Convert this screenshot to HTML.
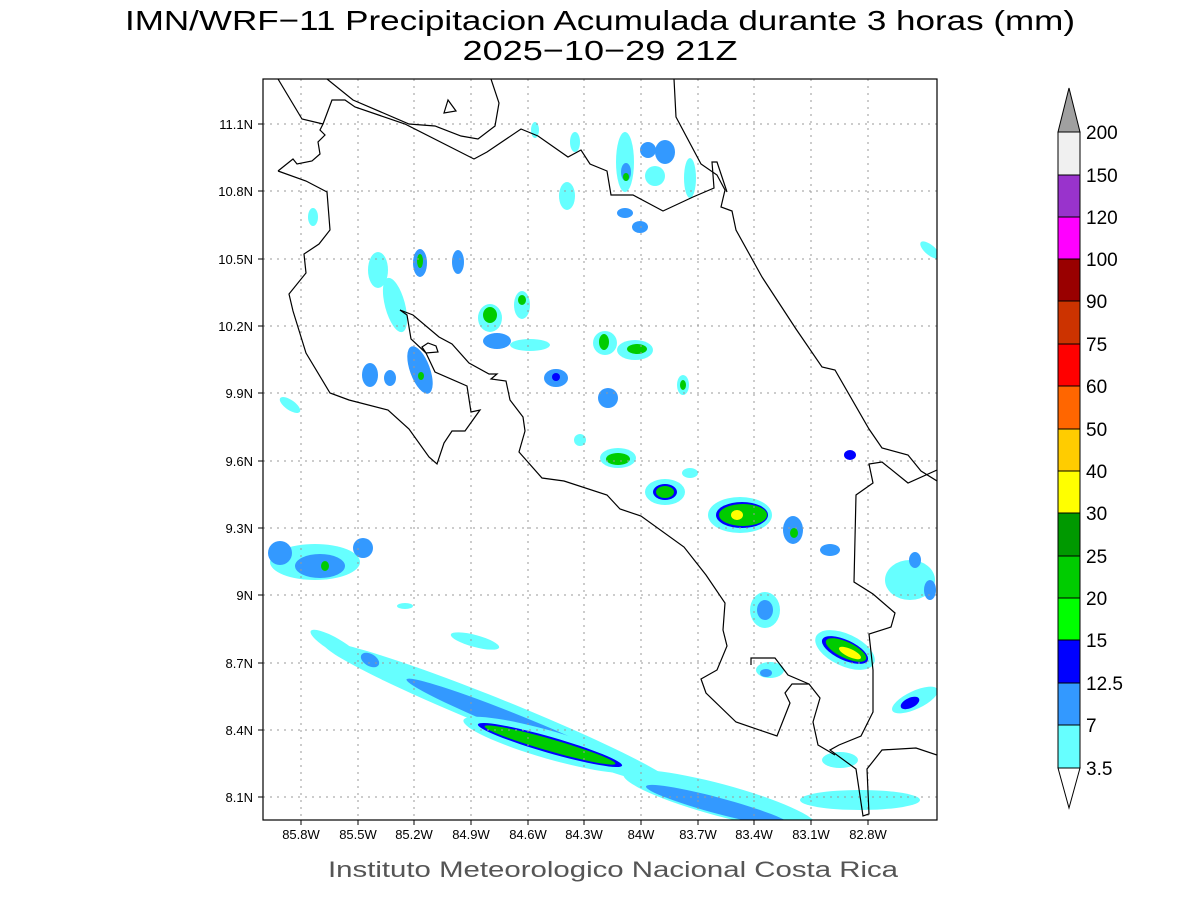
<!DOCTYPE html>
<html><head><meta charset="utf-8"><style>
body{margin:0;background:#fff}
svg{display:block;font-family:"Liberation Sans",sans-serif}
</style></head><body>
<svg width="1200" height="900" viewBox="0 0 1200 900" xmlns="http://www.w3.org/2000/svg">
<rect width="1200" height="900" fill="#fff"/>
<text x="600" y="30" font-size="28" text-anchor="middle" fill="#000" textLength="950" lengthAdjust="spacingAndGlyphs">IMN/WRF−11 Precipitacion Acumulada durante 3 horas (mm)</text>
<text x="600" y="60" font-size="28" text-anchor="middle" fill="#000" textLength="275" lengthAdjust="spacingAndGlyphs">2025−10−29 21Z</text>
<clipPath id="c"><rect x="263" y="79" width="674" height="741"/></clipPath>
<g clip-path="url(#c)">
<g transform="rotate(22 500 715)">
<ellipse cx="500" cy="715" rx="190" ry="15" fill="#66ffff"/>
<ellipse cx="520" cy="717" rx="120" ry="9" fill="#3399ff"/>
</g>
<g transform="rotate(16 550 745)">
<ellipse cx="550" cy="745" rx="90" ry="14" fill="#66ffff"/>
<ellipse cx="550" cy="745" rx="75" ry="8" fill="#0000ff"/>
<ellipse cx="550" cy="745" rx="68" ry="6" fill="#00cc00"/>
</g>
<g transform="rotate(15 720 800)"><ellipse cx="720" cy="800" rx="100" ry="16" fill="#66ffff"/><ellipse cx="720" cy="806" rx="75" ry="8" fill="#3399ff"/></g>
<ellipse cx="860" cy="800" rx="60" ry="10" fill="#66ffff"/>
<g transform="rotate(30 335 645)"><ellipse cx="335" cy="645" rx="28" ry="7" fill="#66ffff"/></g>
<ellipse cx="475" cy="641" rx="25" ry="6" fill="#66ffff" transform="rotate(15 475 641)"/>
<ellipse cx="370" cy="660" rx="10" ry="6" fill="#3399ff" transform="rotate(30 370 660)"/>
<ellipse cx="315" cy="562" rx="45" ry="18" fill="#66ffff"/>
<ellipse cx="320" cy="566" rx="25" ry="12" fill="#3399ff"/>
<ellipse cx="325" cy="566" rx="4" ry="5" fill="#00cc00"/>
<ellipse cx="363" cy="548" rx="10" ry="10" fill="#3399ff"/>
<ellipse cx="280" cy="553" rx="12" ry="12" fill="#3399ff"/>
<ellipse cx="405" cy="606" rx="8" ry="3" fill="#66ffff"/>
<ellipse cx="740" cy="515" rx="32" ry="18" fill="#66ffff"/>
<ellipse cx="742" cy="515" rx="26" ry="13" fill="#0000ff"/>
<ellipse cx="743" cy="515" rx="24" ry="11" fill="#00cc00"/>
<ellipse cx="737" cy="515" rx="6" ry="5" fill="#ffff00"/>
<ellipse cx="793" cy="530" rx="10" ry="14" fill="#3399ff"/><ellipse cx="794" cy="533" rx="4" ry="5" fill="#00cc00"/>
<ellipse cx="845" cy="650" rx="32" ry="16" fill="#66ffff" transform="rotate(25 845 650)"/>
<ellipse cx="845" cy="650" rx="25" ry="10" fill="#0000ff" transform="rotate(25 845 650)"/>
<ellipse cx="846" cy="650" rx="22" ry="8" fill="#00cc00" transform="rotate(25 846 650)"/>
<ellipse cx="850" cy="653" rx="12" ry="4" fill="#ffff00" transform="rotate(25 850 653)"/>
<ellipse cx="665" cy="492" rx="20" ry="13" fill="#66ffff"/><ellipse cx="665" cy="492" rx="12" ry="8" fill="#0000ff"/><ellipse cx="665" cy="492" rx="9" ry="6" fill="#00cc00"/>
<ellipse cx="618" cy="458" rx="18" ry="10" fill="#66ffff"/><ellipse cx="618" cy="459" rx="12" ry="6" fill="#00cc00"/>
<ellipse cx="765" cy="610" rx="15" ry="18" fill="#66ffff"/><ellipse cx="765" cy="610" rx="8" ry="10" fill="#3399ff"/>
<ellipse cx="915" cy="700" rx="25" ry="9" fill="#66ffff" transform="rotate(-25 915 700)"/><ellipse cx="910" cy="703" rx="10" ry="5" fill="#0000ff" transform="rotate(-25 910 703)"/>
<ellipse cx="910" cy="580" rx="25" ry="20" fill="#66ffff"/><ellipse cx="915" cy="560" rx="6" ry="8" fill="#3399ff"/><ellipse cx="930" cy="590" rx="6" ry="10" fill="#3399ff"/>
<ellipse cx="830" cy="550" rx="10" ry="6" fill="#3399ff"/>
<ellipse cx="850" cy="455" rx="6" ry="5" fill="#0000ff"/>
<ellipse cx="770" cy="670" rx="14" ry="8" fill="#66ffff"/><ellipse cx="766" cy="673" rx="6" ry="4" fill="#3399ff"/>
<ellipse cx="840" cy="760" rx="18" ry="8" fill="#66ffff"/>
<ellipse cx="690" cy="473" rx="8" ry="5" fill="#66ffff"/>
<ellipse cx="580" cy="440" rx="6" ry="6" fill="#66ffff"/>
<ellipse cx="490" cy="318" rx="12" ry="14" fill="#66ffff"/><ellipse cx="490" cy="315" rx="7" ry="8" fill="#00cc00"/>
<ellipse cx="497" cy="341" rx="14" ry="8" fill="#3399ff"/>
<ellipse cx="522" cy="305" rx="8" ry="14" fill="#66ffff"/><ellipse cx="522" cy="300" rx="4" ry="5" fill="#00cc00"/>
<ellipse cx="530" cy="345" rx="20" ry="6" fill="#66ffff"/>
<ellipse cx="605" cy="343" rx="12" ry="12" fill="#66ffff"/><ellipse cx="604" cy="342" rx="5" ry="8" fill="#00cc00"/>
<ellipse cx="635" cy="350" rx="18" ry="10" fill="#66ffff"/><ellipse cx="637" cy="349" rx="10" ry="5" fill="#00cc00"/>
<ellipse cx="556" cy="378" rx="12" ry="9" fill="#3399ff"/><ellipse cx="556" cy="377" rx="4" ry="4" fill="#0000ff"/>
<ellipse cx="608" cy="398" rx="10" ry="10" fill="#3399ff"/>
<ellipse cx="683" cy="385" rx="6" ry="10" fill="#66ffff"/><ellipse cx="683" cy="385" rx="3" ry="5" fill="#00cc00"/>
<ellipse cx="420" cy="263" rx="7" ry="14" fill="#3399ff"/><ellipse cx="420" cy="261" rx="3" ry="7" fill="#00cc00"/>
<ellipse cx="458" cy="262" rx="6" ry="12" fill="#3399ff"/>
<ellipse cx="378" cy="270" rx="10" ry="18" fill="#66ffff"/>
<ellipse cx="395" cy="305" rx="10" ry="28" fill="#66ffff" transform="rotate(-15 395 305)"/>
<ellipse cx="420" cy="370" rx="10" ry="25" fill="#3399ff" transform="rotate(-20 420 370)"/><ellipse cx="421" cy="376" rx="3" ry="4" fill="#00cc00"/>
<ellipse cx="370" cy="375" rx="8" ry="12" fill="#3399ff"/><ellipse cx="390" cy="378" rx="6" ry="8" fill="#3399ff"/>
<ellipse cx="625" cy="162" rx="9" ry="30" fill="#66ffff"/><ellipse cx="626" cy="172" rx="5" ry="9" fill="#3399ff"/><ellipse cx="626" cy="177" rx="3" ry="4" fill="#00cc00"/>
<ellipse cx="665" cy="152" rx="10" ry="12" fill="#3399ff"/><ellipse cx="648" cy="150" rx="8" ry="8" fill="#3399ff"/>
<ellipse cx="690" cy="178" rx="6" ry="20" fill="#66ffff"/>
<ellipse cx="655" cy="176" rx="10" ry="10" fill="#66ffff"/>
<ellipse cx="625" cy="213" rx="8" ry="5" fill="#3399ff"/><ellipse cx="640" cy="227" rx="8" ry="6" fill="#3399ff"/>
<ellipse cx="567" cy="196" rx="8" ry="14" fill="#66ffff"/>
<ellipse cx="313" cy="217" rx="5" ry="9" fill="#66ffff"/>
<ellipse cx="290" cy="405" rx="12" ry="5" fill="#66ffff" transform="rotate(35 290 405)"/>
<ellipse cx="930" cy="250" rx="12" ry="5" fill="#66ffff" transform="rotate(40 930 250)"/>
<ellipse cx="575" cy="142" rx="5" ry="10" fill="#66ffff"/><ellipse cx="535" cy="130" rx="4" ry="8" fill="#66ffff"/>
</g>
<g stroke="#999" stroke-width="1" stroke-dasharray="2,5" fill="none">
<path d="M301 79V820M358 79V820M414 79V820M471 79V820M528 79V820M584 79V820M641 79V820M698 79V820M754 79V820M811 79V820M868 79V820"/>
<path d="M263 124H937M263 191H937M263 259H937M263 326H937M263 393H937M263 461H937M263 528H937M263 595H937M263 663H937M263 730H937M263 797H937"/>
</g>
<g clip-path="url(#c)" fill="none" stroke="#000" stroke-width="1.2">
<polyline points="278,79 302,119 323,124 332,100 345,100 355,107 405,124 474,159 487,152 521,129 538,136 568,157 581,150 590,164 607,171 611,195 633,195 663,211 693,197 714,188 712,162 717,162 727,192"/>
<polyline points="327,79 353,100 409,124 435,126 461,136 478,139 495,126 499,103 491,79"/>
<polygon points="448,100 444,113 456,111"/>
<polyline points="674,79 676,117 701,164 717,175 725,190 721,207 732,211 736,230 762,277 796,329 822,367 835,370 869,429 882,448 908,455 921,471 937,481"/>
<polyline points="937,470 908,483 882,462 869,464 873,483 856,495 854,582 873,594 895,613 891,627 869,634 873,670 873,712 861,736 839,745 830,750 856,769 863,816 869,814 867,769 882,750 916,748 937,755"/>
<polyline points="278,171 293,159 297,164 312,161 320,154 318,142 325,135 320,130 323,124"/>
<polyline points="278,171 306,181 327,192 330,230 319,244 304,254 306,273 289,294 293,311 306,353 330,393 349,400 388,410 409,429 429,457 437,464 444,443 452,431 465,431 480,410 471,412 467,386 435,372 426,353 411,339 407,315 400,310"/>
<polyline points="400,310 413,315 439,337 452,344 469,363 489,374 497,374 491,379 506,381 510,400 523,417 525,431 519,452 542,478 564,481 607,495 620,509 641,516 684,547 706,575 725,603 723,630 727,646 717,670 701,679 706,693 736,722 777,736 790,703 785,693 792,684 809,684 820,698 813,722 818,745 835,755"/>
<polyline points="751,665 751,658 775,658 788,675 809,684"/>
<polygon points="422,347 428,343 436,346 438,352 426,353"/>
</g>
<rect x="263" y="79" width="674" height="741" fill="none" stroke="#000" stroke-width="1.2"/>
<g font-size="13" text-anchor="middle" fill="#000">
<text x="301" y="839">85.8W</text><text x="358" y="839">85.5W</text><text x="414" y="839">85.2W</text><text x="471" y="839">84.9W</text><text x="528" y="839">84.6W</text><text x="584" y="839">84.3W</text><text x="641" y="839">84W</text><text x="698" y="839">83.7W</text><text x="754" y="839">83.4W</text><text x="811" y="839">83.1W</text><text x="868" y="839">82.8W</text>
</g>
<g stroke="#000"><path d="M301 820v5M358 820v5M414 820v5M471 820v5M528 820v5M584 820v5M641 820v5M698 820v5M754 820v5M811 820v5M868 820v5M263 124h-5M263 191h-5M263 259h-5M263 326h-5M263 393h-5M263 461h-5M263 528h-5M263 595h-5M263 663h-5M263 730h-5M263 797h-5"/></g>
<g font-size="13" text-anchor="end" fill="#000">
<text x="253" y="129">11.1N</text><text x="253" y="196">10.8N</text><text x="253" y="264">10.5N</text><text x="253" y="331">10.2N</text><text x="253" y="398">9.9N</text><text x="253" y="466">9.6N</text><text x="253" y="533">9.3N</text><text x="253" y="600">9N</text><text x="253" y="668">8.7N</text><text x="253" y="735">8.4N</text><text x="253" y="802">8.1N</text>
</g>
<text x="613" y="877" font-size="22" text-anchor="middle" fill="#555" textLength="570" lengthAdjust="spacingAndGlyphs">Instituto Meteorologico Nacional Costa Rica</text>
<g stroke="#000" stroke-width="1">
<polygon points="1058,132 1080,132 1069,88" fill="#a0a0a0"/>
<rect x="1058" y="132" width="22" height="43" fill="#f0f0f0"/>
<rect x="1058" y="175" width="22" height="42" fill="#9933cc"/>
<rect x="1058" y="217" width="22" height="42" fill="#ff00ff"/>
<rect x="1058" y="259" width="22" height="42" fill="#990000"/>
<rect x="1058" y="301" width="22" height="43" fill="#cc3300"/>
<rect x="1058" y="344" width="22" height="42" fill="#ff0000"/>
<rect x="1058" y="386" width="22" height="43" fill="#ff6600"/>
<rect x="1058" y="429" width="22" height="42" fill="#ffcc00"/>
<rect x="1058" y="471" width="22" height="42" fill="#ffff00"/>
<rect x="1058" y="513" width="22" height="43" fill="#009900"/>
<rect x="1058" y="556" width="22" height="42" fill="#00cc00"/>
<rect x="1058" y="598" width="22" height="42" fill="#00ff00"/>
<rect x="1058" y="640" width="22" height="43" fill="#0000ff"/>
<rect x="1058" y="683" width="22" height="42" fill="#3399ff"/>
<rect x="1058" y="725" width="22" height="43" fill="#66ffff"/>
<polygon points="1058,768 1080,768 1069,808" fill="#fff"/>
</g>
<g font-size="19" fill="#000">
<text x="1086" y="139">200</text><text x="1086" y="182">150</text><text x="1086" y="224">120</text><text x="1086" y="266">100</text><text x="1086" y="308">90</text><text x="1086" y="351">75</text><text x="1086" y="393">60</text><text x="1086" y="436">50</text><text x="1086" y="478">40</text><text x="1086" y="520">30</text><text x="1086" y="563">25</text><text x="1086" y="605">20</text><text x="1086" y="647">15</text><text x="1086" y="690">12.5</text><text x="1086" y="732">7</text><text x="1086" y="775">3.5</text>
</g>
</svg>
</body></html>
